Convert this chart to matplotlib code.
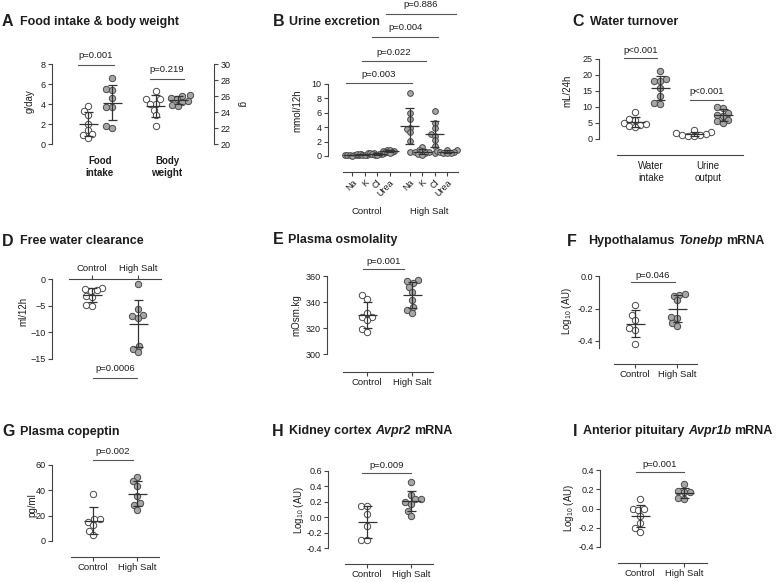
import numpy as np
import matplotlib
matplotlib.use("Agg")
import matplotlib.pyplot as plt

plt.rcParams['font.family'] = ['Liberation Sans', 'DejaVu Sans']
plt.rcParams['mathtext.fontset'] = 'custom'
plt.rcParams['mathtext.rm'] = 'Liberation Sans'
plt.rcParams['mathtext.it'] = 'Liberation Sans:italic'

# ---------------- data ----------------
food_ctrl = [3.8, 3.3, 2.9, 2.0, 1.4, 1.0, 0.9, 0.6]
food_hs = [6.6, 5.5, 5.4, 4.65, 3.7, 3.7, 1.8, 1.65]
bw_ctrl = [26.6, 25.6, 25.6, 25.0, 25.0, 24.3, 23.6, 22.3]
bw_hs = [26.1, 26.0, 25.75, 25.6, 25.4, 25.25, 24.9, 24.7]

urine_cats = ['Na', 'K', 'Cl', 'Urea']
urine_ctrl = {
    'Na': [0.25, 0.2, 0.18, 0.15, 0.12, 0.1, 0.08, 0.05],
    'K': [0.35, 0.3, 0.28, 0.25, 0.22, 0.2, 0.18, 0.15],
    'Cl': [0.45, 0.4, 0.35, 0.3, 0.28, 0.25, 0.2, 0.18],
    'Urea': [0.9, 0.8, 0.7, 0.65, 0.6, 0.55, 0.5, 0.45],
}
urine_hs = {
    'Na': [8.7, 6.0, 5.1, 3.9, 3.7, 3.4, 2.1, 0.5],
    'K': [1.2, 0.9, 0.7, 0.6, 0.5, 0.4, 0.3, 0.2],
    'Cl': [6.3, 4.6, 3.85, 3.0, 2.8, 2.2, 1.4, 0.37],
    'Urea': [0.9, 0.8, 0.7, 0.6, 0.5, 0.45, 0.4, 0.35],
}
urine_p = ['p=0.003', 'p=0.022', 'p=0.004', 'p=0.886']

wi_ctrl = [8.3, 6.35, 5.8, 5.0, 4.8, 4.5, 4.0, 3.6]
wi_hs = [21.3, 18.6, 18.2, 18.0, 16.0, 13.3, 11.3, 11.0]
uo_ctrl = [2.9, 2.2, 1.9, 1.7, 1.4, 1.2, 1.0, 0.9]
uo_hs = [10.0, 9.7, 8.1, 7.6, 7.3, 5.9, 5.5, 5.0]

fwc_ctrl = [-1.7, -1.9, -2.0, -2.3, -3.25, -3.4, -4.8, -5.1]
fwc_hs = [-0.9, -5.6, -6.7, -6.9, -7.3, -12.6, -13.1, -13.7]

osm_ctrl = [345.2, 342.6, 331.2, 328.6, 328.6, 326.5, 319.0, 317.0]
osm_hs = [356.7, 356.0, 354.6, 351.6, 347.8, 341.4, 336.3, 334.2, 331.2]

ton_ctrl = [-0.18, -0.24, -0.27, -0.32, -0.33, -0.42]
ton_hs = [-0.11, -0.115, -0.12, -0.15, -0.25, -0.26, -0.29, -0.31]

cop_ctrl = [37.5, 17.7, 17.0, 15.0, 12.4, 7.9, 4.5]
cop_hs = [50.4, 47.2, 43.8, 35.9, 29.8, 28.8, 24.8]

avpr2_ctrl = [0.15, 0.14, 0.04, -0.12, -0.29, -0.30]
avpr2_hs = [0.46, 0.29, 0.24, 0.23, 0.2, 0.17, 0.08, 0.01]

avpr1b_ctrl = [0.10, 0.0, -0.01, -0.02, -0.08, -0.15, -0.2, -0.24]
avpr1b_hs = [0.25, 0.18, 0.17, 0.17, 0.11, 0.10]

groups = ['Control', 'High Salt']

# ---------------- style ----------------
W, H = 780, 582
fig = plt.figure(figsize=(W / 100, H / 100), dpi=100)
TXT = '#1e1e1e'
LC = '#444444'
LW = 0.8
TS = 6.5
GRAY = '#a6a6a6'
EDGE = '#4a4a4a'
MS = 21
DD = 6.0
renderer = fig.canvas.get_renderer()


def px_ax(L, R, T, B):
    return fig.add_axes([L / W, 1 - B / H, (R - L) / W, (B - T) / H])


def swarm(vals, d):
    vals = np.asarray(vals, float)
    order = np.argsort(vals)
    placed = []
    xs = np.zeros(len(vals))
    for i in order:
        y = vals[i]
        cands = [0.0]
        for (px, py) in placed:
            dy = abs(y - py)
            if dy < d:
                dx = np.sqrt(d * d - dy * dy)
                cands += [px + dx, px - dx]
        cands.sort(key=lambda c: (abs(c), c))
        chosen = 0.0
        for c in cands:
            if all((c - px) ** 2 + (y - py) ** 2 >= d * d - 1e-6 for px, py in placed):
                chosen = c
                break
        placed.append((chosen, y))
        xs[i] = chosen
    return xs


def make_panel(L, R, T, B, ylim, c0, unit):
    ax = px_ax(L, R, T, B)
    ax.set_xlim((L - c0) / unit, (R - c0) / unit)
    ax.set_ylim(*ylim)
    ax.patch.set_alpha(0)
    for s in ['top', 'right', 'bottom']:
        ax.spines[s].set_visible(False)
    ax.spines['left'].set_linewidth(LW)
    ax.spines['left'].set_color(LC)
    ax.tick_params(axis='both', length=3, width=LW, color=LC, labelsize=TS,
                   labelcolor=TXT, pad=1.5)
    ax._unit = unit
    ax._yscale = (B - T) / (ylim[1] - ylim[0])
    return ax


def group(ax, pos, vals, filled, d=DD, s=MS, bar=True, yax=None):
    yax = yax or ax
    vals = np.asarray(vals, float)
    ysc = yax._yscale
    offs = swarm(vals * ysc, d) / ax._unit
    yax.scatter(pos + offs, vals, s=s, facecolor=GRAY if filled else 'white',
                edgecolor=EDGE, linewidth=0.7, zorder=3, clip_on=False)
    if bar:
        m = vals.mean()
        sd = vals.std(ddof=1)
        hw = 9.5 / ax._unit
        cw = 4.5 / ax._unit
        kw = dict(color='#333333', lw=0.9, zorder=4, clip_on=False, solid_capstyle='butt')
        yax.plot([pos - hw, pos + hw], [m, m], **kw)
        yax.plot([pos, pos], [m - sd, m + sd], **kw)
        yax.plot([pos - cw, pos + cw], [m + sd, m + sd], **kw)
        yax.plot([pos - cw, pos + cw], [m - sd, m - sd], **kw)


def sig(ax, x0, x1, yl, yt, label):
    ax.plot([x0, x1], [yl, yl], color='#555555', lw=0.8, clip_on=False)
    ax.text((x0 + x1) / 2, yt, label, ha='center', va='center', fontsize=6.8,
            color=TXT, clip_on=False)


def bottom_axis(ax, off_px, b0, b1, labels, ticks=True):
    sp = ax.spines['bottom']
    sp.set_visible(True)
    sp.set_position(('outward', off_px * 0.72))
    sp.set_bounds(b0, b1)
    sp.set_linewidth(LW)
    sp.set_color(LC)
    ax.set_xticks(range(len(labels)))
    ax.set_xticklabels(labels, fontsize=6.8)


def fig_text(x, y, s, **kw):
    kw.setdefault('color', TXT)
    return fig.text(x / W, 1 - y / H, s, **kw)


def ylabel(x, y, s):
    fig_text(x, y, s, rotation=90, ha='center', va='center', fontsize=7)


def title(xl, xt, y, letter, pieces):
    fig_text(xl, y, letter, fontsize=11.5, fontweight='bold', ha='left', va='center')
    x = xt
    space = 9 * 0.278 * 100 / 72
    for i, (s, st) in enumerate(pieces):
        t = fig_text(x, y, s, fontsize=9, fontweight='bold', fontstyle=st,
                     ha='left', va='center')
        x += t.get_window_extent(renderer).width + space


# ---------------- A ----------------
axA = make_panel(52, 214, 64, 144, (0, 8), 88, 24)
axA.set_yticks([0, 2, 4, 6, 8])
axA2 = axA.twinx()
axA2.set_ylim(20, 30)
axA2.patch.set_alpha(0)
for s in ['top', 'left', 'bottom']:
    axA2.spines[s].set_visible(False)
axA2.spines['right'].set_linewidth(LW)
axA2.spines['right'].set_color(LC)
axA2.tick_params(axis='y', length=3, width=LW, color=LC, labelsize=TS, labelcolor=TXT, pad=1.5)
axA2.set_yticks([20, 22, 24, 26, 28, 30])
axA2._yscale = 80 / 10
posA = [0, 1, 2.83, 3.75]
group(axA, posA[0], food_ctrl, False)
group(axA, posA[1], food_hs, True)
group(axA, posA[2], bw_ctrl, False, yax=axA2)
group(axA, posA[3], bw_hs, True, yax=axA2)
axA.set_xticks([0.5, 3.29])
axA.set_xticklabels(['Food\nintake', 'Body\nweight'], fontweight='bold', fontsize=7)
axA.tick_params(axis='x', length=0, pad=9)
sig(axA, -0.42, 1.08, 7.9, 8.85, 'p=0.001')
sig(axA, 2.58, 4.0, 6.5, 7.4, 'p=0.219')
ylabel(30, 101, 'g/day')
fig_text(242, 104, 'g', rotation=270, ha='center', va='center', fontsize=7)
title(2, 20, 22, 'A', [('Food intake & body weight', 'normal')])

# ---------------- B ----------------
axB = make_panel(328, 460, 84, 156, (0, 10), 352, 12.5)
axB.set_yticks([0, 2, 4, 6, 8, 10])
posB_ctrl = [0, 1, 2, 3]
posB_hs = [4.6, 5.6, 6.6, 7.6]
for i, c in enumerate(urine_cats):
    group(axB, posB_ctrl[i], urine_ctrl[c], True, d=2.4, s=17)
    group(axB, posB_hs[i], urine_hs[c], True, d=3.6, s=17)
bottom_axis(axB, 16, -0.72, 8.48, urine_cats * 2)
axB.set_xticks(posB_ctrl + posB_hs)
axB.set_xticklabels(urine_cats * 2, rotation=45, ha='right', va='top',
                    rotation_mode='anchor', fontsize=6.5)
axB.tick_params(axis='x', length=3, pad=1.5)
sigB = [(-0.48, 4.8, 10.1, 11.25), (0.8, 5.9, 13.2, 14.4),
        (1.6, 6.9, 16.5, 17.8), (2.7, 8.3, 19.7, 21.0)]
for (x0, x1, yl, yt), lab in zip(sigB, urine_p):
    sig(axB, x0, x1, yl, yt, lab)
fig_text(367, 211, 'Control', ha='center', va='center', fontsize=6.8)
fig_text(429, 211, 'High Salt', ha='center', va='center', fontsize=6.8)
ylabel(297, 111, 'mmol/12h')
title(273, 289, 22, 'B', [('Urine excretion', 'normal')])

# ---------------- C ----------------
axC = make_panel(599, 745, 59, 139, (0, 25), 635, 25)
axC.set_yticks([0, 5, 10, 15, 20, 25])
posC = [0, 1, 2.36, 3.52]
group(axC, posC[0], wi_ctrl, False)
group(axC, posC[1], wi_hs, True)
group(axC, posC[2], uo_ctrl, False)
group(axC, posC[3], uo_hs, True)
bottom_axis(axC, 16, -0.72, 4.32, ['a', 'b'])
axC.set_xticks([0.64, 2.92])
axC.set_xticklabels(['Water\nintake', 'Urine\noutput'], fontsize=7, linespacing=1.3)
axC.tick_params(axis='x', length=0, pad=4)
sig(axC, -0.44, 0.88, 25.3, 27.8, 'p<0.001')
sig(axC, 2.2, 3.52, 12.2, 14.7, 'p<0.001')
ylabel(567, 91, 'mL/24h')
title(572, 590, 22, 'C', [('Water turnover', 'normal')])

# ---------------- D ----------------
axD = make_panel(52, 165, 279, 359, (-15, 0), 92, 46)
axD.set_yticks([0, -5, -10, -15])
group(axD, 0, fwc_ctrl, False)
group(axD, 1, fwc_hs, True)
sp = axD.spines['top']
sp.set_visible(True)
sp.set_bounds(-0.5, 1.5)
sp.set_linewidth(LW)
sp.set_color(LC)
axD.xaxis.tick_top()
axD.set_xticks([0, 1])
axD.set_xticklabels(groups, fontsize=6.8)
axD.tick_params(axis='x', length=3, width=LW, color=LC, pad=1.5)
sig(axD, 0.02, 0.98, -18.56, -16.7, 'p=0.0006')
ylabel(23, 311, 'ml/12h')
title(2, 20, 241, 'D', [('Free water clearance', 'normal')])


def two_group(spec, ctrl, hs, yticks, yticklabels, off, bounds, sigspec, ylab_xy, ylab):
    L, R, T, B, ylim, c0, unit = spec
    ax = make_panel(L, R, T, B, ylim, c0, unit)
    ax.set_yticks(yticks)
    if yticklabels is not None:
        ax.set_yticklabels(yticklabels)
    group(ax, 0, ctrl, False)
    group(ax, 1, hs, True)
    bottom_axis(ax, off, bounds[0], bounds[1], groups)
    ax.tick_params(axis='x', length=3, pad=1.5)
    sig(ax, *sigspec)
    ylabel(ylab_xy[0], ylab_xy[1], ylab)
    return ax


LOG = 'Log$_{10}$ (AU)'

# ---------------- E ----------------
two_group((327, 440, 276, 354, (300, 360), 367, 45), osm_ctrl, osm_hs,
          [300, 320, 340, 360], None, 18, (-0.53, 1.47),
          (-0.09, 0.82, 365.4, 371.5, 'p=0.001'), (296, 315), 'mOsm.kg')
title(273, 288, 240, 'E', [('Plasma osmolality', 'normal')])

# ---------------- F ----------------
two_group((599, 700, 276, 347.5, (-0.44, 0), 635, 42), ton_ctrl, ton_hs,
          [0, -0.2, -0.4], ['0.0', '-0.2', '-0.4'], 16, (-0.5, 1.48),
          (-0.1, 0.95, -0.037, 0.006, 'p=0.046'), (567, 311), LOG)
title(567, 588, 241, 'F', [('Hypothalamus', 'normal'), ('Tonebp', 'italic'), ('mRNA', 'normal')])

# ---------------- G ----------------
two_group((52, 160, 465, 541, (0, 60), 93, 44), cop_ctrl, cop_hs,
          [0, 20, 40, 60], None, 16, (-0.5, 1.5),
          (0, 0.91, 63.9, 70.3, 'p=0.002'), (32, 505), 'pg/ml')
title(2, 20, 432, 'G', [('Plasma copeptin', 'normal')])

# ---------------- H ----------------
two_group((328, 435, 471, 548, (-0.4, 0.6), 367, 44), avpr2_ctrl, avpr2_hs,
          [-0.4, -0.2, 0, 0.2, 0.4, 0.6], ['-0.4', '-0.2', '0.0', '0.2', '0.4', '0.6'],
          16, (-0.5, 1.5), (-0.11, 1.0, 0.574, 0.665, 'p=0.009'), (299, 510), LOG)
title(272, 289, 431, 'H', [('Kidney cortex', 'normal'), ('Avpr2', 'italic'), ('mRNA', 'normal')])

# ---------------- I ----------------
two_group((600, 710, 470, 547, (-0.4, 0.4), 640, 44), avpr1b_ctrl, avpr1b_hs,
          [-0.4, -0.2, 0, 0.2, 0.4], ['-0.4', '-0.2', '0.0', '0.2', '0.4'],
          16, (-0.5, 1.52), (-0.09, 1.0, 0.379, 0.462, 'p=0.001'), (569, 508), LOG)
title(573, 583, 431, 'I', [('Anterior pituitary', 'normal'), ('Avpr1b', 'italic'), ('mRNA', 'normal')])

fig.savefig('out.png', dpi=100)
